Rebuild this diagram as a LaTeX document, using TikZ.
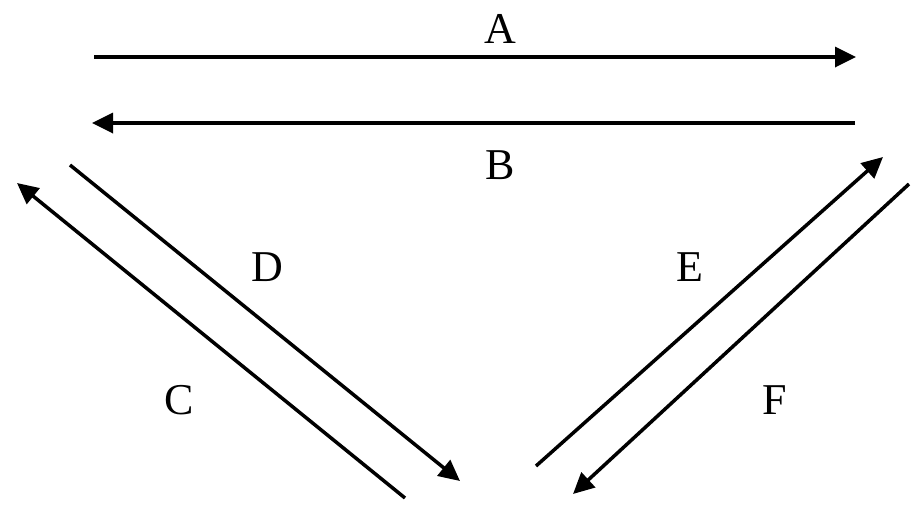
\documentclass[tikz,border=0pt]{standalone}
\usepackage{fontspec}
\setmainfont{Liberation Serif}
\usetikzlibrary{arrows.meta}
\tikzset{
  % flow arrows
  flowarrow/.style={
    -{Triangle[length=21pt,width=20pt]}, line width=3.5pt, black
  },
  % letter labels
  flowlabel/.style={
    font=\fontsize{44}{44}\selectfont, inner sep=0pt
  }
}
\begin{document}
\begin{tikzpicture}[x=1pt, y=-1pt]
  \useasboundingbox (0,0) rectangle (911,504);

  % --- end points ---
  \coordinate (a_start) at (94,57);
  \coordinate (a_end)   at (856,57);
  \coordinate (b_start) at (855,123);
  \coordinate (b_end)   at (92,123);
  \coordinate (c_start) at (405,498);
  \coordinate (c_end)   at (17,183);
  \coordinate (d_start) at (70,165);
  \coordinate (d_end)   at (460,481);
  \coordinate (e_start) at (536,466);
  \coordinate (e_end)   at (883,157);
  \coordinate (f_start) at (909,184);
  \coordinate (f_end)   at (573,494);

  % --- arrows ---
  \draw[flowarrow] (a_start) -- (a_end);
  \draw[flowarrow] (b_start) -- (b_end);
  \draw[flowarrow] (c_start) -- (c_end);
  \draw[flowarrow] (d_start) -- (d_end);
  \draw[flowarrow] (e_start) -- (e_end);
  \draw[flowarrow] (f_start) -- (f_end);

  % --- labels ---
  \node[flowlabel] (lbl_a) at (500,29)  {A};
  \node[flowlabel] (lbl_b) at (500,165) {B};
  \node[flowlabel] (lbl_c) at (179,400) {C};
  \node[flowlabel] (lbl_d) at (267,267) {D};
  \node[flowlabel] (lbl_e) at (690,267) {E};
  \node[flowlabel] (lbl_f) at (775,400) {F};

\end{tikzpicture}
\end{document}
